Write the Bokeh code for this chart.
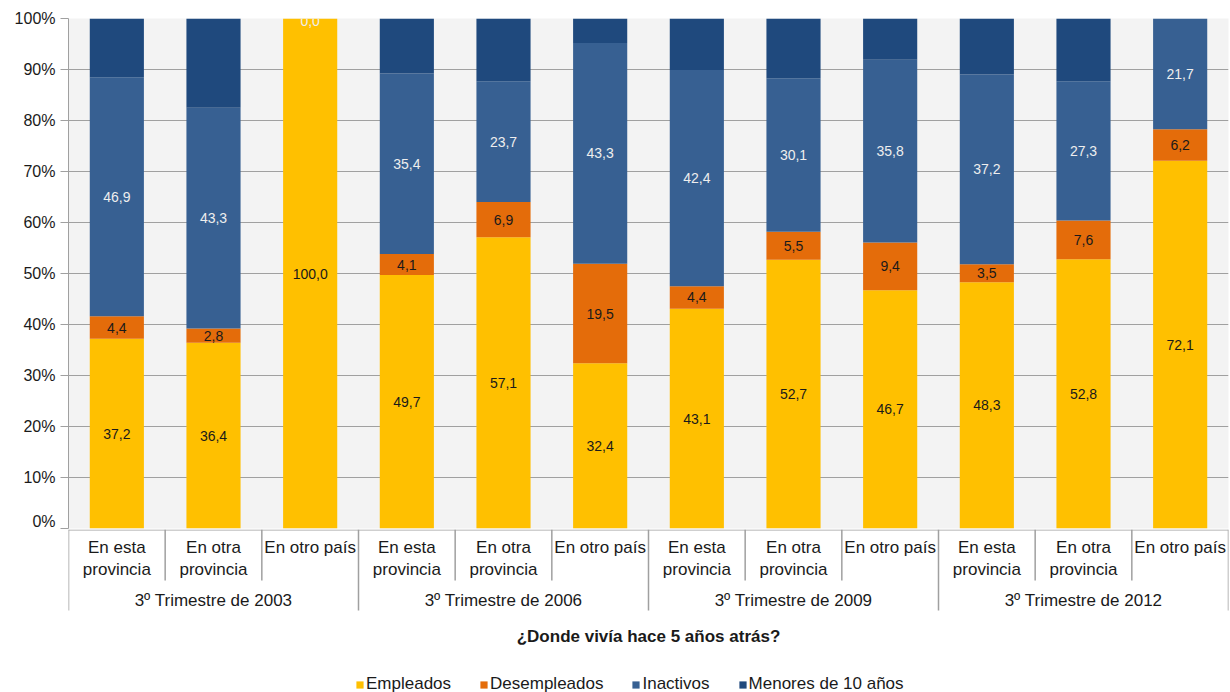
from bokeh.plotting import figure
from bokeh.layouts import column
from bokeh.models import (Range1d, FixedTicker, PrintfTickFormatter, ColumnDataSource,
                          Legend, LegendItem)
from bokeh.core.properties import value
from bokeh.embed import file_html
from bokeh.resources import INLINE

# ---------------- data ----------------
categories = ["En esta\nprovincia", "En otra\nprovincia", "En otro país"] * 4
groups = ["3º Trimestre de 2003", "3º Trimestre de 2006",
          "3º Trimestre de 2009", "3º Trimestre de 2012"]
series_names = ["Empleados", "Desempleados", "Inactivos", "Menores de 10 años"]
empleados    = [37.2, 36.4, 100.0, 49.7, 57.1, 32.4, 43.1, 52.7, 46.7, 48.3, 52.8, 72.1]
desempleados = [4.4, 2.8, 0.0, 4.1, 6.9, 19.5, 4.4, 5.5, 9.4, 3.5, 7.6, 6.2]
inactivos    = [46.9, 43.3, 0.0, 35.4, 23.7, 43.3, 42.4, 30.1, 35.8, 37.2, 27.3, 21.7]
menores      = [11.5, 17.5, 0.0, 10.8, 12.3, 4.8, 10.1, 11.7, 8.1, 11.0, 12.3, 0.0]
y_ticks = list(range(0, 101, 10))
title_text = "¿Donde vivía hace 5 años atrás?"

colors = ["#FFC000", "#E46C0A", "#376092", "#1F497D"]
FONT = "Liberation Sans"
TXT = "#1a1a1a"

n = len(categories)
xs = [i + 0.5 for i in range(n)]
group_size = n // len(groups)

src = ColumnDataSource(dict(x=xs, emp=empleados, des=desempleados,
                            ina=inactivos, men=menores))

W = 1230
# ---------------- main plot ----------------
p = figure(width=W, height=529, x_range=Range1d(0, n), y_range=Range1d(0, 100),
           output_backend="svg", toolbar_location=None, x_axis_location=None,
           min_border_left=68, min_border_right=2, min_border_top=18, min_border_bottom=1)
p.background_fill_color = "#f3f3f3"
p.border_fill_color = "white"
p.outline_line_color = None

p.vbar_stack(["emp", "des", "ina", "men"], x="x", width=0.56, source=src,
             color=colors, line_color=None)

p.xgrid.visible = False
p.ygrid.ticker = FixedTicker(ticks=y_ticks)
p.ygrid.grid_line_color = "#a0a0a0"
p.ygrid.grid_line_width = 1
p.yaxis.ticker = FixedTicker(ticks=y_ticks)
p.yaxis.formatter = PrintfTickFormatter(format="%d%%")
p.yaxis.major_tick_in = 0
p.yaxis.major_tick_out = 8
p.yaxis.minor_tick_line_color = None
p.yaxis.major_tick_line_color = "#a0a0a0"
p.yaxis.axis_line_color = "#a0a0a0"
p.yaxis.major_label_text_font = FONT
p.yaxis.major_label_text_font_size = "16px"
p.yaxis.major_label_text_color = TXT
p.yaxis.major_label_standoff = 5

def fmt(v):
    return ("%.1f" % v).replace(".", ",")

lx, ly, lt, lc = [], [], [], []
for i in range(n):
    base = 0.0
    e, d, ina = empleados[i], desempleados[i], inactivos[i]
    lx.append(xs[i]); ly.append(base + e / 2); lt.append(fmt(e)); lc.append(TXT)
    base += e
    if d > 0:
        lx.append(xs[i]); ly.append(base + d / 2); lt.append(fmt(d)); lc.append(TXT)
    base += d
    lx.append(xs[i]); ly.append(min(base + ina / 2, 99.6)); lt.append(fmt(ina)); lc.append("#eeeeee")

p.text(x=lx, y=ly, text=lt, text_color=lc, text_align="center", text_baseline="middle",
       text_font=value(FONT), text_font_size="14px")

# ---------------- category axis + legend area ----------------
H2 = 692 - 529
q = figure(width=W, height=H2, x_range=p.x_range, y_range=Range1d(H2, 0),
           output_backend="svg", toolbar_location=None, x_axis_location=None,
           y_axis_location=None, min_border_left=68, min_border_right=2,
           min_border_top=0, min_border_bottom=0)
q.grid.visible = False
q.outline_line_color = None
q.background_fill_color = "white"
q.border_fill_color = "white"

bounds = list(range(n + 1))
seg_len = [81 if b % group_size == 0 else 51 for b in bounds]
q.segment(x0=bounds, y0=[0] * len(bounds), x1=bounds, y1=seg_len,
          line_color="#a0a0a0", line_width=1.5)
q.segment(x0=[0], y0=[0.5], x1=[n], y1=[0.5], line_color="#a0a0a0", line_width=1)

q.text(x=xs, y=[8] * n, text=categories, text_align="center", text_baseline="top",
       text_font=value(FONT), text_font_size="17px", text_color=TXT, text_line_height=1.2)

gx = [g * group_size + group_size / 2 for g in range(len(groups))]
q.text(x=gx, y=[71] * len(groups), text=groups, text_align="center", text_baseline="middle",
       text_font=value(FONT), text_font_size="17px", text_color=TXT)

q.text(x=[n / 2], y=[107], text=[title_text], text_align="center", text_baseline="middle",
       text_font=value(FONT), text_font_size="17px", text_font_style="bold", text_color=TXT)

items = []
for name, col in zip(series_names, colors):
    r = q.vbar(x=[0], top=[0], bottom=[0], width=0, fill_color=col, line_color=None)
    items.append(LegendItem(label=name, renderers=[r]))
leg = Legend(items=items, orientation="horizontal", location=(287, -2),
             glyph_width=9, glyph_height=9, label_standoff=2, spacing=28,
             padding=0, margin=0, border_line_color=None, background_fill_alpha=0,
             label_text_font=FONT, label_text_font_size="17px", label_text_color=TXT,
             label_height=16)
q.add_layout(leg)

layout = column(p, q, spacing=0)
open("out.html", "w").write(file_html(layout, INLINE))
